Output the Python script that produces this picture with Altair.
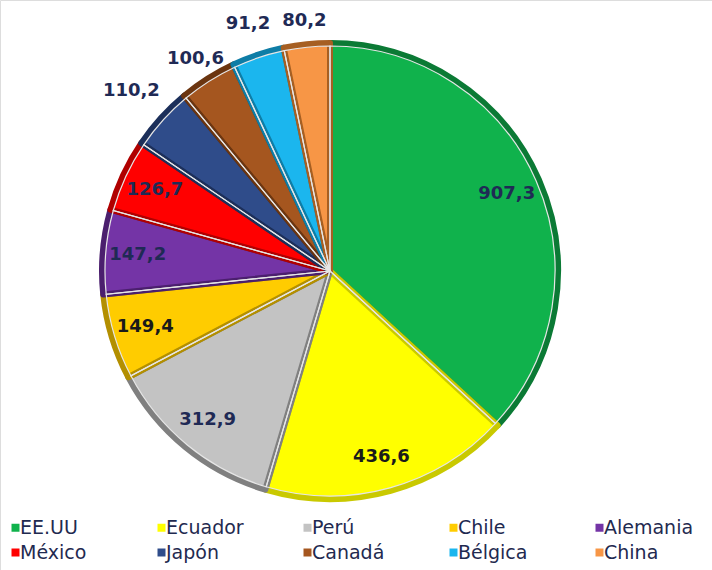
import altair as alt
import pandas as pd

paises = ["EE.UU", "Ecuador", "Perú", "Chile", "Alemania", "México", "Japón", "Canadá", "Bélgica", "China"]
valores = [907.3, 436.6, 312.9, 149.4, 147.2, 126.7, 110.2, 100.6, 91.2, 80.2]
etiquetas = ["907,3", "436,6", "312,9", "149,4", "147,2", "126,7", "110,2", "100,6", "91,2", "80,2"]
orden = list(range(len(paises)))

colores = ["#10B24C", "#FFFF00", "#C3C3C3", "#FFCC00", "#7434A6", "#FF0000", "#2F4C8A", "#A5561F", "#1BB6EE", "#F79646"]
bordes = ["#0B7A35", "#C9C900", "#808080", "#B38F00", "#4B1F6E", "#B00000", "#1C2F5A", "#6B3510", "#0E7DA6", "#A65F22"]

df = pd.DataFrame({"pais": paises, "valor": valores, "etiqueta": etiquetas, "orden": orden})

cx, cy, R = 330, 271, 228

base = alt.Chart(df).encode(
    theta=alt.Theta("valor:Q", stack=True),
    order=alt.Order("orden:Q"),
)

arcs = base.mark_arc(radius=R, strokeWidth=6, strokeJoin="round").encode(
    x=alt.value(cx), y=alt.value(cy),
    color=alt.Color(
        "pais:N",
        scale=alt.Scale(domain=paises, range=colores),
        sort=paises,
        legend=alt.Legend(
            title=None, orient="none", legendX=6, legendY=518, columns=5,
            direction="horizontal",
            gridAlign="all", symbolType="square", symbolSize=64, symbolStrokeWidth=0,
            labelOffset=alt.ExprRef("-5"), columnPadding=42, rowPadding=5,
            labelFont="DejaVu Sans", labelFontSize=19, labelColor="#1F2A50",
            labelLimit=200,
        ),
    ),
    stroke=alt.Stroke("pais:N", scale=alt.Scale(domain=paises, range=bordes), legend=None),
)

sep = base.mark_arc(radius=R - 3, fillOpacity=0, stroke="#E6E6E6", strokeWidth=1.2).encode(
    x=alt.value(cx), y=alt.value(cy)
)

txt_common = dict(font="DejaVu Sans", fontSize=18, fontWeight="bold")
color_cond = alt.condition(
    "datum.pais == 'Ecuador' || datum.pais == 'Chile'",
    alt.value("#1A1A1A"), alt.value("#1F2A55"),
)


def label_layer(test, radius):
    return base.transform_calculate(
        t=f"({test}) ? datum.etiqueta : ''"
    ).mark_text(radius=radius, **txt_common).encode(
        x=alt.value(cx), y=alt.value(cy),
        text="t:N",
        color=color_cond,
    )


inside = label_layer("datum.valor > 120", 193)
out_a = label_layer("datum.pais == 'Canadá' || datum.pais == 'China'", 251)
out_b = label_layer("datum.pais == 'Bélgica'", 260)
out_c = label_layer("datum.pais == 'Japón'", 268)

chart = alt.layer(arcs, sep, inside, out_a, out_b, out_c).properties(
    width=712, height=570, padding=0,
    autosize=alt.AutoSizeParams(type="none"),
).configure_view(stroke=None).configure(background="white")

chart.save("out.html", embed_options={"renderer": "svg", "actions": False})
